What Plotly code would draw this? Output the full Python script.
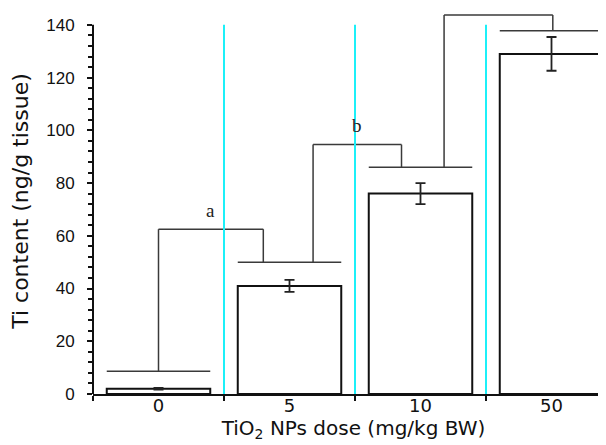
import plotly.graph_objects as go

# ---- data ----
doses = ["0", "5", "10", "50"]
ti_content = [2.0, 41.0, 76.0, 129.0]
ti_error = [0.3, 2.3, 4.0, 6.4]
# heights of the significance brackets
bracket_labels = ["a", "b", "c"]
bracket_tops = [62.5, 94.6, 143.7]
bracket_bases = [8.6, 50.0, 86.0, 137.8]
y_ticks = [0, 20, 40, 60, 80, 100, 120, 140]

# ---- layout constants ----
AX_MAX = 140
half = 0.395
# where each bracket leg meets its base line (offset from bar index)
left_leg = [0.0, 0.18, 0.18]
right_leg = [-0.2, -0.145, 0.01]

fig = go.Figure()
fig.add_trace(go.Bar(
    x=doses, y=ti_content,
    marker=dict(color="white", line=dict(color="#111", width=2)),
    width=0.79,
    error_y=dict(type="data", array=ti_error, visible=True,
                 color="#222", thickness=1.8, width=5),
))

shapes = []
line_style = dict(color="#3a3a3a", width=1.5)
# base lines above each bar
for i, b in enumerate(bracket_bases):
    shapes.append(dict(type="line", xref="x", yref="y", x0=i - half, x1=i + half,
                       y0=b, y1=b, line=line_style))
annotations = []
for k, top in enumerate(bracket_tops):
    xl = k + left_leg[k]
    xr = k + 1 + right_leg[k]
    shapes.append(dict(type="line", xref="x", yref="y", x0=xl, x1=xl,
                       y0=bracket_bases[k], y1=top, line=line_style))
    shapes.append(dict(type="line", xref="x", yref="y", x0=xr, x1=xr,
                       y0=bracket_bases[k + 1], y1=top, line=line_style))
    shapes.append(dict(type="line", xref="x", yref="y", x0=xl, x1=xr,
                       y0=top, y1=top, line=line_style))
    annotations.append(dict(x=(xl + xr) / 2, y=top + 7.2, xref="x", yref="y",
                            text=bracket_labels[k], showarrow=False, yanchor="middle",
                            font=dict(family="Liberation Serif", size=19, color="#222")))
# cyan separators between groups
for i in range(len(doses) - 1):
    shapes.append(dict(type="line", xref="x", yref="y", x0=i + 0.5, x1=i + 0.5,
                       y0=0, y1=AX_MAX, line=dict(color="#1cf0f8", width=2)))
# y axis line only up to 140
shapes.append(dict(type="line", xref="paper", yref="y", x0=0, x1=0, y0=0, y1=AX_MAX,
                   line=dict(color="#111", width=2)))

minor_vals = [v for v in range(4, AX_MAX, 4) if v % 20 != 0]

fig.update_layout(
    width=606, height=445,
    margin=dict(l=85, r=0, t=0, b=59),
    plot_bgcolor="white", paper_bgcolor="white",
    showlegend=False,
    shapes=shapes,
    annotations=annotations,
    font=dict(family="Liberation Sans, Arial", color="#111"),
    xaxis=dict(
        type="category",
        range=[-0.5, -0.5 + 521 / 131],
        tickson="boundaries",
        ticks="outside", ticklen=5, tickwidth=2, tickcolor="#111",
        showline=True, linecolor="#111", linewidth=2,
        showgrid=False, zeroline=False,
        tickfont=dict(family="DejaVu Sans", size=18),
        ticklabelstandoff=-6,
        title=dict(text="TiO<sub>2</sub> NPs dose (mg/kg BW)",
                   font=dict(family="DejaVu Sans", size=20), standoff=0),
    ),
    yaxis=dict(
        range=[0, 146.4],
        tickmode="array", tickvals=y_ticks,
        ticks="outside", ticklen=5, tickwidth=2, tickcolor="#111",
        minor=dict(tickmode="array", tickvals=minor_vals, ticks="outside",
                   ticklen=4, tickwidth=2, tickcolor="#111"),
        showline=False, showgrid=False, zeroline=False,
        tickfont=dict(size=17),
        ticklabelstandoff=9,
        title=dict(text="Ti content (ng/g tissue)",
                   font=dict(family="DejaVu Sans", size=22), standoff=14),
    ),
)

fig.write_html("out.html")
